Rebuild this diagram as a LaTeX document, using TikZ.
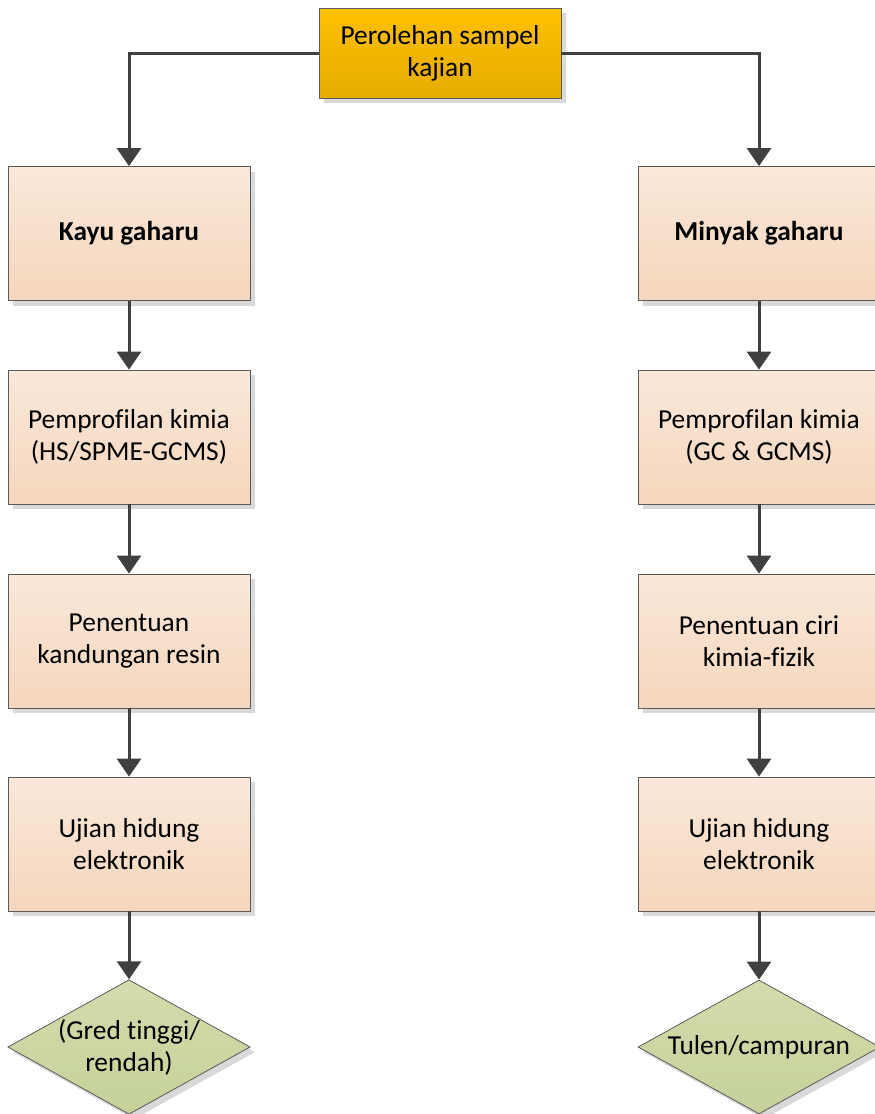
\documentclass[tikz,border=0pt]{standalone}
\usepackage{fontspec}
\setmainfont[Ligatures={NoCommon}]{Carlito}
\usetikzlibrary{shapes.geometric,arrows.meta,shadows}
\definecolor{linec}{HTML}{404040}
\definecolor{edgec}{HTML}{5A5A5A}
\definecolor{boxtop}{HTML}{FAE8DA}
\definecolor{boxbot}{HTML}{F5D6BC}
\definecolor{goldtop}{HTML}{FFC000}
\definecolor{goldbot}{HTML}{E5AC00}
\definecolor{dtop}{HTML}{D3DCAC}
\definecolor{dbot}{HTML}{C5D199}
\tikzset{
  x=1pt,y=-1pt,
  shad/.style={drop shadow={shadow xshift=5pt,shadow yshift=-5pt,fill=black!15,opacity=1}},
  txt/.style={font=\fontsize{27.4}{32}\selectfont},
  pbox/.style={draw=edgec,line width=0.8pt,minimum width=242pt,minimum height=134pt,
     top color=boxtop,bottom color=boxbot,align=center,txt,shad,inner sep=0pt},
  topbox/.style={pbox,minimum height=90pt,top color=goldtop,bottom color=goldbot},
  dia/.style={diamond,draw=edgec,line width=0.8pt,minimum width=242pt,minimum height=134pt,aspect=1.8,
     top color=dtop,bottom color=dbot,align=center,txt,shad,inner sep=0pt},
  conn/.style={draw=linec,line width=3pt,-{Triangle[length=18pt,width=24pt]}}
}
\begin{document}
\begin{tikzpicture}
\useasboundingbox (0,0) rectangle (875,1114);
\node[topbox] (top) at (440,53) {Perolehan sampel\\kajian};
\node[pbox] (k1) at (129,233.5) {\textbf{Kayu gaharu}};
\node[pbox] (k2) at (129,437) {Pemprofilan kimia\\(HS/SPME-GCMS)};
\node[pbox] (k3) at (129,641) {Penentuan\\kandungan resin};
\node[pbox] (k4) at (129,844) {Ujian hidung\\elektronik};
\node[dia] (k5) at (129,1047) {(Gred tinggi/\\rendah)};
\node[pbox] (m1) at (759,233.5) {\textbf{Minyak gaharu}};
\node[pbox] (m2) at (759,437) {Pemprofilan kimia\\(GC \& GCMS)};
\node[pbox] (m3) at (759,641) {Penentuan ciri\\kimia-fizik};
\node[pbox] (m4) at (759,844) {Ujian hidung\\elektronik};
\node[dia] (m5) at (759,1047) {Tulen/campuran};
\draw[conn] (top.west) -| (k1.north);
\draw[conn] (top.east) -| (m1.north);
\draw[conn] (k1) -- (k2);
\draw[conn] (k2) -- (k3);
\draw[conn] (k3) -- (k4);
\draw[conn] (k4) -- (k5);
\draw[conn] (m1) -- (m2);
\draw[conn] (m2) -- (m3);
\draw[conn] (m3) -- (m4);
\draw[conn] (m4) -- (m5);
\end{tikzpicture}
\end{document}
